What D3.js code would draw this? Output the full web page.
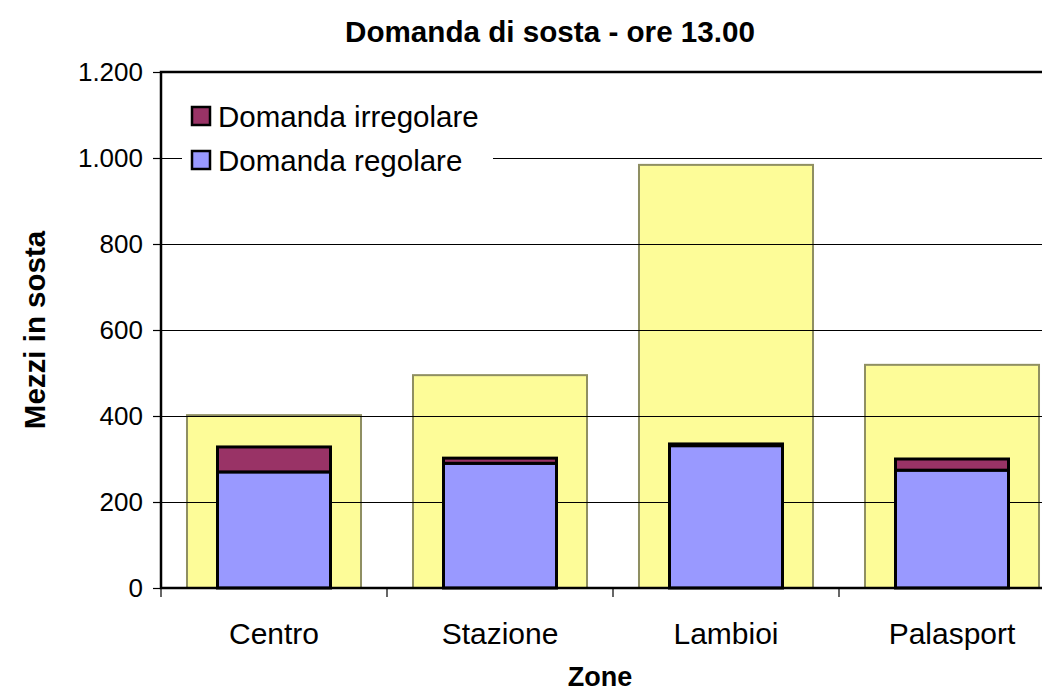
<!DOCTYPE html>
<html>
<head>
<meta charset="utf-8">
<script src="https://cdn.jsdelivr.net/npm/d3@7"></script>
<style>
    body { margin: 0; background: #fff; }
    svg { display: block; font-family: "Liberation Sans", Arial, sans-serif; }
</style>
</head>
<body>
<svg id="chart" width="1042" height="691"></svg>
<script>
// Chart data
const zones = ['Centro', 'Stazione', 'Lambioi', 'Palasport'];
const capacity = [402, 495, 984, 519];
const regular = [270, 290, 331, 274];
const irregular = [58, 12, 4, 26];
const yTicks = [0, 200, 400, 600, 800, 1000, 1200];
const seriesNames = ['Domanda irregolare', 'Domanda regolare'];

// Layout
const margin = { top: 72, left: 161, bottom: 103 };
const plotRight = 1065;
const svg = d3.select('#chart');
const height = 691 - margin.top - margin.bottom;

const x = d3.scaleBand()
    .domain(zones)
    .range([margin.left, plotRight]);

const y = d3.scaleLinear()
    .domain([0, 1200])
    .range([margin.top + height, margin.top]);

const formatTick = d => d3.format(',')(d).replace(/,/g, '.');

// Yellow capacity bars (background)
const yellowW = x.bandwidth() * 0.77;
svg.append('g')
    .selectAll('rect')
    .data(zones)
    .join('rect')
    .attr('x', d => x(d) + (x.bandwidth() - yellowW) / 2)
    .attr('y', (d, i) => y(capacity[i]))
    .attr('width', yellowW)
    .attr('height', (d, i) => y(0) - y(capacity[i]))
    .attr('fill', '#fdfc98')
    .attr('stroke', '#8f8f62')
    .attr('stroke-width', 2);

// Gridlines
svg.append('g')
    .selectAll('line')
    .data(yTicks.filter(t => t > 0 && t < 1200))
    .join('line')
    .attr('x1', margin.left)
    .attr('x2', plotRight)
    .attr('y1', d => Math.round(y(d)) + 0.5)
    .attr('y2', d => Math.round(y(d)) + 0.5)
    .attr('stroke', '#000')
    .attr('stroke-width', 1);

// Stacked demand bars
const stackData = zones.map((z, i) => ({ zone: z, regular: regular[i], irregular: irregular[i] }));
const stack = d3.stack().keys(['regular', 'irregular'])(stackData);
const colors = { regular: '#9999ff', irregular: '#993366' };
const barW = x.bandwidth() * 0.5;

svg.append('g')
    .selectAll('g')
    .data(stack)
    .join('g')
    .attr('fill', d => colors[d.key])
    .selectAll('rect')
    .data(d => d)
    .join('rect')
    .attr('x', d => x(d.data.zone) + (x.bandwidth() - barW) / 2)
    .attr('y', d => y(d[1]))
    .attr('width', barW)
    .attr('height', d => y(d[0]) - y(d[1]))
    .attr('stroke', '#000')
    .attr('stroke-width', 3);

// Plot frame
svg.append('rect')
    .attr('x', margin.left)
    .attr('y', margin.top)
    .attr('width', plotRight - margin.left)
    .attr('height', height)
    .attr('fill', 'none')
    .attr('stroke', '#000')
    .attr('stroke-width', 2.5);

// Y axis
const yAxis = svg.append('g')
    .attr('transform', `translate(${margin.left},0)`)
    .call(d3.axisLeft(y).tickValues(yTicks).tickSize(8).tickPadding(10).tickFormat(formatTick));
yAxis.select('.domain').remove();
yAxis.selectAll('.tick line').attr('stroke', '#000').attr('stroke-width', 1.2);
yAxis.selectAll('text').attr('font-size', 26).attr('fill', '#000');

// X axis
const xAxis = svg.append('g')
    .attr('transform', `translate(0,${y(0)})`)
    .call(d3.axisBottom(x).tickSize(0).tickPadding(35));
xAxis.select('.domain').remove();
xAxis.selectAll('text').attr('font-size', 30).attr('fill', '#000');
xAxis.selectAll('.sep')
    .data(d3.range(zones.length + 1))
    .join('line')
    .attr('x1', i => margin.left + i * x.bandwidth())
    .attr('x2', i => margin.left + i * x.bandwidth())
    .attr('y1', 0)
    .attr('y2', 9)
    .attr('stroke', '#000')
    .attr('stroke-width', 1.2);

// Legend
const legend = svg.append('g');
legend.append('rect')
    .attr('x', 182).attr('y', 92)
    .attr('width', 311).attr('height', 92)
    .attr('fill', '#fff');
const legendColors = [colors.irregular, colors.regular];
seriesNames.forEach((name, i) => {
    legend.append('rect')
        .attr('x', 192).attr('y', 107 + i * 44)
        .attr('width', 18).attr('height', 18)
        .attr('fill', legendColors[i])
        .attr('stroke', '#000')
        .attr('stroke-width', 2.5);
    legend.append('text')
        .attr('x', 218).attr('y', 127 + i * 44)
        .attr('font-size', 29.5)
        .text(name);
});

// Titles
svg.append('text')
    .attr('x', 550).attr('y', 42)
    .attr('text-anchor', 'middle')
    .attr('font-size', 29)
    .attr('font-weight', 'bold')
    .attr('textLength', 410)
    .attr('lengthAdjust', 'spacingAndGlyphs')
    .text('Domanda di sosta - ore 13.00');

svg.append('text')
    .attr('x', 600).attr('y', 686)
    .attr('text-anchor', 'middle')
    .attr('font-size', 27)
    .attr('font-weight', 'bold')
    .text('Zone');

svg.append('text')
    .attr('transform', 'translate(45,330) rotate(-90)')
    .attr('text-anchor', 'middle')
    .attr('font-size', 29.5)
    .attr('font-weight', 'bold')
    .text('Mezzi in sosta');
</script>
</body>
</html>
